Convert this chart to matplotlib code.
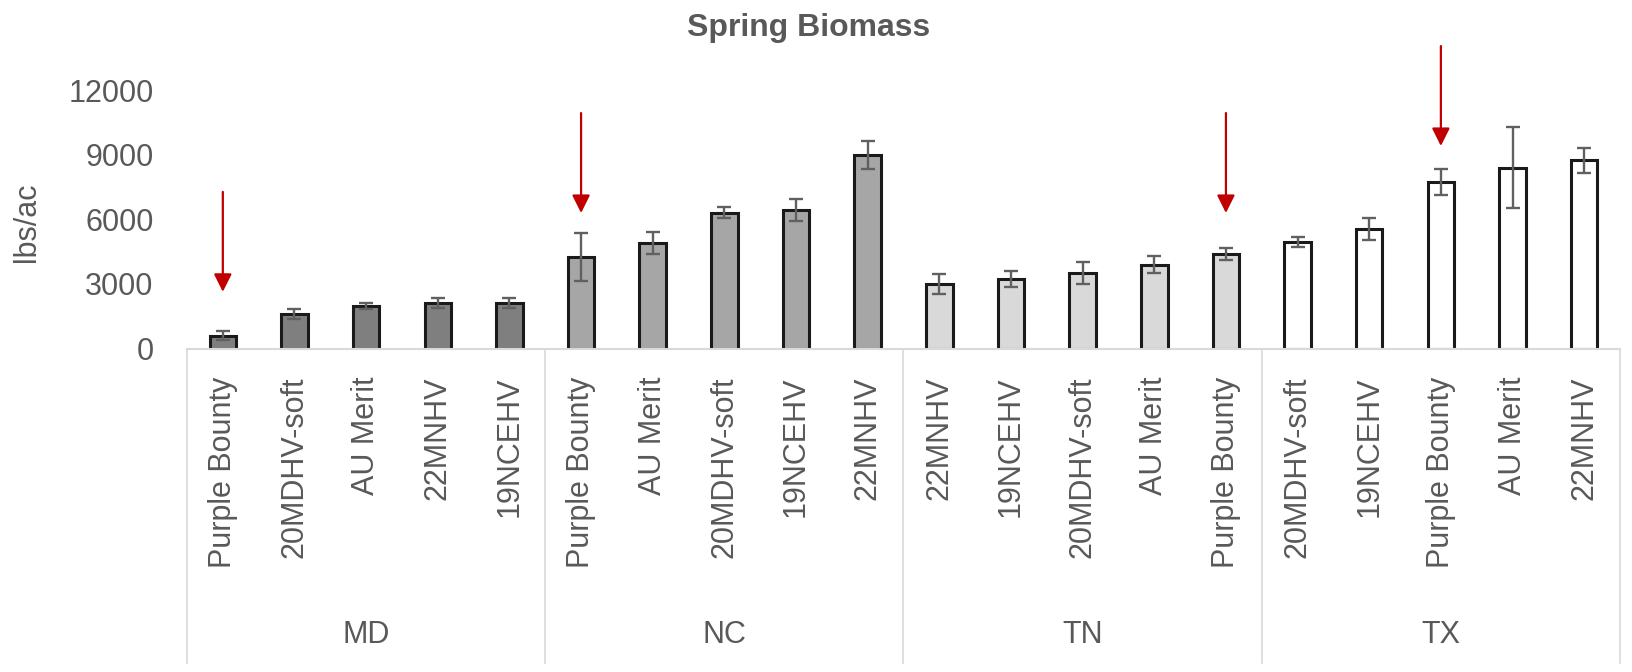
import matplotlib
matplotlib.use("Agg")
import matplotlib.pyplot as plt
import matplotlib.transforms as mtransforms
import numpy as np

plt.rcParams['font.family'] = ['Liberation Sans', 'DejaVu Sans']

# spring biomass by site and variety (lbs/ac), with error bar half-widths
sites = ['MD', 'NC', 'TN', 'TX']
varieties = [
    ['Purple Bounty', '20MDHV-soft', 'AU Merit', '22MNHV', '19NCEHV'],
    ['Purple Bounty', 'AU Merit', '20MDHV-soft', '19NCEHV', '22MNHV'],
    ['22MNHV', '19NCEHV', '20MDHV-soft', 'AU Merit', 'Purple Bounty'],
    ['20MDHV-soft', '19NCEHV', 'Purple Bounty', 'AU Merit', '22MNHV'],
]
biomass = [
    [590, 1600, 1980, 2110, 2100],
    [4250, 4900, 6310, 6450, 8990],
    [3010, 3240, 3500, 3890, 4400],
    [4930, 5550, 7720, 8390, 8740],
]
errors = [
    [210, 250, 150, 240, 240],
    [1100, 500, 250, 510, 640],
    [460, 380, 510, 390, 280],
    [240, 510, 600, 1870, 580],
]
site_colors = ['#7f7f7f', '#a6a6a6', '#d9d9d9', '#ffffff']

# red arrows point at Purple Bounty in each site (tip height in lbs/ac)
arrow_tips = [2630, 6290, 6290, 9400]
arrow_len = 4640

labels = [v for grp in varieties for v in grp]
values = [v for grp in biomass for v in grp]
errs = [e for grp in errors for e in grp]
colors = [site_colors[i] for i, grp in enumerate(varieties) for _ in grp]
x = np.arange(len(labels))

fig = plt.figure(figsize=(16.33, 6.72), dpi=100)
ax = fig.add_axes([187 / 1633, 1 - 348.5 / 672, 1433 / 1633, 258.5 / 672])

txt = '#595959'
ax.bar(x, values, width=0.37, color=colors, edgecolor='#1a1a1a', linewidth=2.2, zorder=2)
ax.errorbar(x, values, yerr=errs, fmt='none', ecolor='#606060', elinewidth=1.7,
            capsize=5, capthick=1.7, zorder=3)

ax.set_xlim(-0.5, len(labels) - 0.5)
ax.set_ylim(0, 12000)
ax.set_yticks(np.arange(0, 12001, 3000))
ax.tick_params(axis='y', length=0, pad=24, labelsize=22, labelcolor=txt)
ax.set_xticks(x)
ax.set_xticklabels(labels, rotation=90)
ax.tick_params(axis='x', length=0, pad=20, labelsize=22, labelcolor=txt)

for side in ['left', 'top', 'right']:
    ax.spines[side].set_visible(False)
ax.spines['bottom'].set_color('#d9d9d9')
ax.spines['bottom'].set_linewidth(1.5)

# multi-level category axis: site separators and site names
trans = mtransforms.blended_transform_factory(ax.transData, ax.transAxes)
n = len(varieties[0])
for k in range(len(sites) + 1):
    xb = k * n - 0.5
    ax.plot([xb, xb], [0, -1.217], transform=trans, color='#d9d9d9', lw=1.2, clip_on=False)
for k, s in enumerate(sites):
    ax.text(k * n + (n - 1) / 2, -1.11, s, transform=trans, ha='center', va='center',
            fontsize=22, color=txt)

for k, tip in enumerate(arrow_tips):
    xi = k * n + varieties[k].index('Purple Bounty')
    ax.annotate('', xy=(xi, tip), xytext=(xi, tip + arrow_len),
                arrowprops=dict(arrowstyle='-|>', color='#c00000', lw=1.6,
                                mutation_scale=27, shrinkA=0, shrinkB=0),
                annotation_clip=False)

ax.text(-0.112, 0.49, 'lbs/ac', transform=ax.transAxes, rotation=90, ha='center',
        va='center', fontsize=22, color=txt)
fig.text(809 / 1633, 1 - 28 / 672, 'Spring Biomass', ha='center', va='center',
         fontsize=23, fontweight='bold', color=txt)

fig.savefig('out.png', dpi=100)
